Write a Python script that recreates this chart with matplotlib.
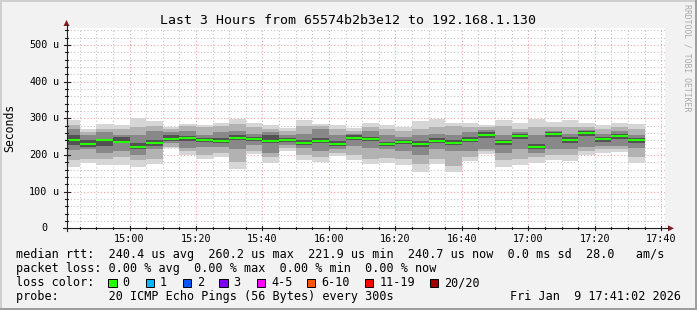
import matplotlib
matplotlib.use("Agg")
import matplotlib.pyplot as plt
from matplotlib.patches import Rectangle, Polygon
from matplotlib.lines import Line2D
import numpy as np
import pandas as pd

W, H = 697, 310
MONO = "DejaVu Sans Mono"

title = "Last 3 Hours from 65574b2b3e12 to 192.168.1.130"

# 5 minute bins, first one clipped by the left edge, last one ends 17:35
bin_start = pd.date_range("2026-01-09 14:40", "2026-01-09 17:30", freq="5min")
t0 = pd.Timestamp("2026-01-09 15:00")
view_start = pd.Timestamp("2026-01-09 14:41:02")
view_end = pd.Timestamp("2026-01-09 17:41:02")

# round trip times in microseconds
median = [240.8, 229.9, 240.8, 235.4, 221.9, 233.6, 244.4, 247.2, 240.8, 239.0,
          247.0, 244.0, 239.0, 241.7, 233.6, 238.0, 230.8, 247.0, 244.0, 229.9,
          235.4, 230.8, 239.0, 233.6, 240.8, 255.3, 235.4, 252.6, 222.6, 257.2,
          240.8, 260.2, 244.0, 252.6, 240.7]
rtt_min = [166, 179, 172, 172, 166, 175, 218, 200, 189, 195,
           161, 202, 179, 212, 186, 182, 198, 186, 175, 179,
           172, 154, 175, 154, 184, 204, 168, 172, 179, 186,
           184, 200, 206, 209, 179]
rtt_p10 = [186, 190, 190, 195, 186, 190, 222, 210, 200, 205,
           180, 210, 195, 218, 200, 195, 205, 200, 190, 192,
           190, 175, 190, 170, 195, 210, 185, 190, 195, 200,
           200, 210, 215, 215, 195]
rtt_p25 = [214, 215, 205, 210, 200, 215, 232, 220, 222, 222,
           215, 228, 205, 228, 218, 212, 215, 225, 220, 215,
           210, 200, 215, 210, 210, 215, 205, 215, 205, 215,
           215, 222, 225, 225, 220]
core_lo = [227, 222, 224, 232, 215, 225, 238, 238, 235, 232,
           240, 238, 232, 236, 228, 232, 225, 240, 238, 224,
           230, 222, 232, 226, 235, 245, 228, 244, 215, 250,
           234, 252, 236, 244, 232]
core_hi = [254, 240, 242, 250, 232, 240, 255, 252, 245, 245,
           255, 250, 255, 246, 240, 245, 238, 254, 250, 236,
           242, 238, 245, 240, 250, 262, 242, 258, 230, 262,
           248, 266, 250, 258, 246]
rtt_p75 = [272, 255, 262, 255, 255, 265, 262, 265, 255, 262,
           265, 258, 262, 255, 258, 270, 255, 258, 265, 255,
           250, 255, 258, 255, 262, 268, 255, 262, 255, 265,
           258, 268, 258, 265, 255]
rtt_p90 = [282, 262, 270, 272, 275, 280, 270, 280, 275, 280,
           285, 275, 272, 265, 278, 278, 270, 265, 275, 270,
           265, 270, 275, 278, 275, 275, 278, 272, 275, 275,
           275, 275, 270, 275, 270]
rtt_max = [295, 272, 284, 282, 300, 292, 277, 284, 282, 286,
           297, 286, 282, 273, 295, 284, 282, 273, 286, 282,
           275, 293, 297, 286, 288, 282, 295, 286, 297, 290,
           295, 288, 282, 288, 284]

x_ticks = ["15:00", "15:20", "15:40", "16:00", "16:20", "16:40", "17:00", "17:20", "17:40"]
y_ticks = [0, 100, 200, 300, 400, 500]

legend_rows = [
    "median rtt:  240.4 us avg  260.2 us max  221.9 us min  240.7 us now  0.0 ms sd  28.0   am/s",
    "packet loss: 0.00 % avg  0.00 % max  0.00 % min  0.00 % now",
    "loss color:",
    "probe:       20 ICMP Echo Pings (56 Bytes) every 300s",
]
stamp = "Fri Jan  9 17:41:02 2026"
loss_labels = ["0", "1", "2", "3", "4-5", "6-10", "11-19", "20/20"]
loss_colors = ["#26ff00", "#00b8ff", "#0059ff", "#7e00ff", "#ff00ff", "#ff5500", "#ff0000", "#a10000"]

# rrdtool-ish palette
BACK = "#f2f2f2"
SHADE_A = "#cfcfcf"
SHADE_B = "#9e9e9e"
GRID = "#c4c4c4"
MGRID = "#eea0a0"
ARROW = (0.5, 0.12, 0.12)
AXIS = (0.12, 0.12, 0.12)


def fx(x):
    return x / W


def fy(y):
    return 1 - y / H


fig = plt.figure(figsize=(W / 100, H / 100), dpi=100, facecolor=BACK)
left, right, bottom, top = 66.5, 664.7, 228.3, 28.3
ax = fig.add_axes([fx(left), fy(bottom), (right - left) / W, (bottom - top) / H])
ax.set_facecolor("white")
for s in ax.spines.values():
    s.set_visible(False)
ax.set_xticks([])
ax.set_yticks([])

to_min = lambda ts: (ts - t0).total_seconds() / 60
xs = np.array([to_min(t) for t in bin_start])
x0, x1 = to_min(view_start), to_min(view_end)
ax.set_xlim(x0, x1)
ax.set_ylim(0, 545.5)

# dotted grid behind the smoke
dots = (0, (1, 2))
for m in range(-15, 165, 5):
    if m > x1:
        break
    col = MGRID if m % 20 == 0 else GRID
    ax.axvline(m, color=col, lw=0.8, ls=dots, zorder=1)
for v in range(20, 545, 20):
    col = MGRID if v % 100 == 0 else GRID
    ax.axhline(v, color=col, lw=0.8, ls=dots, zorder=1)

# smoke, outer layers lighter
layers = [
    (rtt_min, rtt_max, "#d6d6d6"),
    (rtt_p10, rtt_p90, "#b2b2b2"),
    (rtt_p25, rtt_p75, "#888888"),
    (core_lo, core_hi, "#525252"),
]
for lo, hi, col in layers:
    lo = np.array(lo, float)
    hi = np.array(hi, float)
    ax.bar(xs, hi - lo, bottom=lo, width=5, align="edge", color=col, linewidth=0, zorder=2)

ax.hlines(median, xs, xs + 5, colors="#26ff00", linewidth=1.5, zorder=4)


# axes with arrows, drawn in figure pixels
def fline(xa, ya, xb, yb, **kw):
    fig.add_artist(Line2D([fx(xa), fx(xb)], [fy(ya), fy(yb)], transform=fig.transFigure, **kw))


fline(63, bottom, 668, bottom, color=AXIS, lw=0.8)
fline(left, bottom + 3, left, 25, color=AXIS, lw=0.8)
fig.add_artist(Polygon([(fx(668), fy(bottom - 3)), (fx(674), fy(bottom)), (fx(668), fy(bottom + 3))],
                       closed=True, transform=fig.transFigure, color=ARROW, lw=0))
fig.add_artist(Polygon([(fx(left - 3), fy(26)), (fx(left), fy(20)), (fx(left + 3), fy(26))],
                       closed=True, transform=fig.transFigure, color=ARROW, lw=0))

xpix = lambda m: left + (m - x0) / (x1 - x0) * (right - left)
ypix = lambda v: bottom - v / 545.5 * (bottom - top)
for m in range(-15, 165, 5):
    if m > x1:
        break
    px = xpix(m)
    if m % 20 == 0:
        fline(px, bottom - 2, px, bottom + 2, color=AXIS, lw=0.8)
    else:
        fline(px, bottom - 1, px, bottom + 1, color=AXIS, lw=0.8)
for v in range(0, 545, 20):
    py = ypix(v)
    if v % 100 == 0:
        fline(left - 3, py, left + 3, py, color=AXIS, lw=0.8)
    else:
        fline(left - 1.5, py, left + 1.5, py, color=AXIS, lw=0.8)

# tick labels
for i, lab in enumerate(x_ticks):
    fig.text(fx(xpix(i * 20)), fy(242), lab, ha="center", va="baseline",
             fontsize=7.3, family=MONO)
for v in y_ticks:
    py = ypix(v)
    fig.text(fx(47.5), fy(py), str(v), ha="right", va="center", fontsize=7.3, family=MONO)
    if v:
        fig.text(fx(53), fy(py), "u", ha="left", va="center", fontsize=7.3, family=MONO)

fig.text(fx(10), fy(128), "Seconds", rotation=90, ha="center", va="center",
         fontsize=8.3, family=MONO)
fig.text(fx(347.5), fy(24), title, ha="center", va="baseline", fontsize=9.5, family=MONO)
fig.text(fx(687.5), fy(4), "RRDTOOL / TOBI OETIKER", rotation=270, ha="center", va="top",
         fontsize=5.9, family=MONO, color="#aaaaaa")

# legend block
for k, row in enumerate(legend_rows):
    fig.text(fx(16), fy(258 + 14 * k), row, ha="left", va="baseline", fontsize=8.5, family=MONO)
fig.text(fx(681), fy(300), stamp, ha="right", va="baseline", fontsize=8.5, family=MONO)

box_x = [108.3, 145.7, 182.7, 219.3, 256.7, 306.7, 365.0, 430.0]
for bx, lab, col in zip(box_x, loss_labels, loss_colors):
    fig.add_artist(Rectangle((fx(bx), fy(287)), 8.3 / W, 8.3 / H, transform=fig.transFigure,
                             facecolor=col, edgecolor="black", lw=0.7))
    fig.text(fx(bx + 14.2), fy(286), lab, ha="left", va="baseline", fontsize=8.5, family=MONO)

# 3d-ish frame
fig.add_artist(Rectangle((0, fy(2)), 1, 2 / H, transform=fig.transFigure, color=SHADE_A, lw=0))
fig.add_artist(Rectangle((0, 0), 2 / W, 1, transform=fig.transFigure, color=SHADE_A, lw=0))
fig.add_artist(Rectangle((0, 0), 1, 2 / H, transform=fig.transFigure, color=SHADE_B, lw=0))
fig.add_artist(Rectangle((fx(W - 2), 0), 2 / W, 1, transform=fig.transFigure, color=SHADE_B, lw=0))

fig.savefig("out.png", dpi=100, facecolor=BACK)
